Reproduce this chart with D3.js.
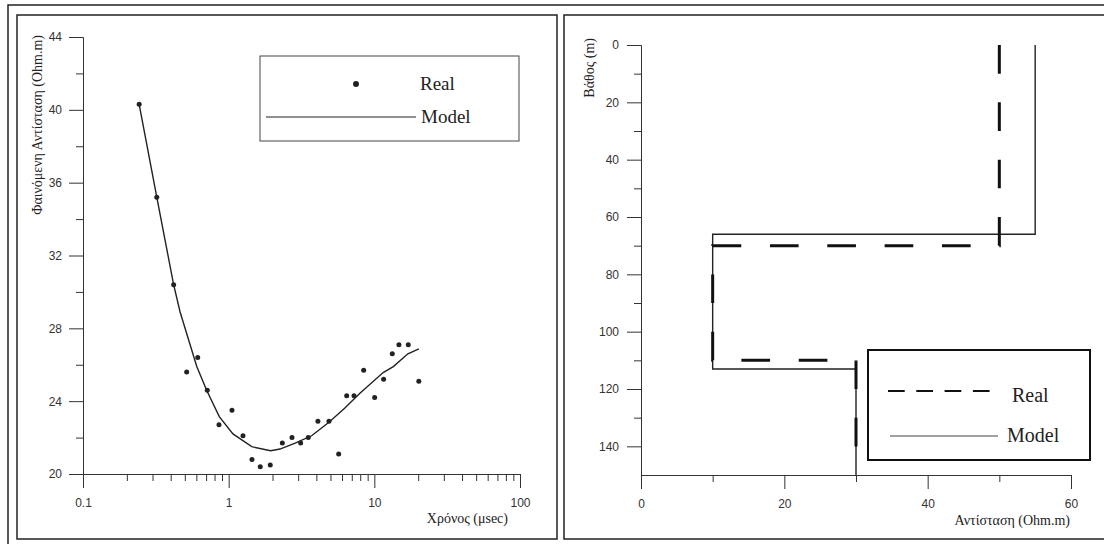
<!DOCTYPE html>
<html>
<head>
<meta charset="utf-8">
<script src="https://cdn.jsdelivr.net/npm/d3@7"></script>
<style>
  html, body { margin: 0; padding: 0; background: #fff; }
  svg { display: block; }
</style>
</head>
<body>
<svg id="chart" width="1104" height="544"></svg>
<script>
// Apparent resistivity sounding curve (left) and layered resistivity model (right)

// Left panel: measured apparent resistivity vs. time
const realTime = [0.243, 0.321, 0.419, 0.515, 0.613, 0.713, 0.858, 1.054, 1.254, 1.445, 1.648, 1.93, 2.335, 2.72,
                  3.12, 3.52, 4.10, 4.88, 5.69, 6.46, 7.25, 8.45, 10.05, 11.58, 13.28, 14.75, 17.1, 20.2];
const realRho  = [40.3, 35.2, 30.4, 25.6, 26.4, 24.6, 22.7, 23.5, 22.1, 20.8, 20.4, 20.5, 21.7, 22.0,
                  21.7, 22.0, 22.9, 22.9, 21.1, 24.3, 24.3, 25.7, 24.2, 25.2, 26.6, 27.1, 27.1, 25.1];

// Left panel: model response curve
const modelTime = [0.243, 0.321, 0.419, 0.464, 0.604, 0.706, 0.862, 1.07, 1.44, 1.94, 2.25, 2.86, 3.71,
                   4.93, 6.25, 7.96, 11.5, 13.5, 17.0, 20.2];
const modelRho  = [40.3, 35.2, 30.4, 28.9, 25.9, 24.6, 23.15, 22.2, 21.5, 21.28, 21.37, 21.69, 22.1,
                   22.87, 23.61, 24.43, 25.57, 25.9, 26.6, 26.87];

const timeTicks = [0.1, 1, 10, 100];
const timeTickLabels = ["0.1", "1", "10", "100"];
const rhoTicks = [20, 24, 28, 32, 36, 40, 44];

// Right panel: layered resistivity vs. depth (step profiles)
const realDepth  = [0, 70, 70, 110, 110, 150];
const realRes    = [50, 50, 10, 10, 30, 30];
const modelDepth = [0, 66, 66, 113, 113, 150];
const modelRes   = [55, 55, 10, 10, 30, 30];

const resTicks = [0, 20, 40, 60];
const depthTicks = [0, 20, 40, 60, 80, 100, 120, 140];

const svg = d3.select("#chart");
const ink = "#222";
const axisInk = "#333";
const sans = "'Liberation Sans', Arial, sans-serif";
const serif = "'Liberation Serif', 'Times New Roman', serif";

// Outer and panel frames
svg.append("rect").attr("x", 8).attr("y", 5).attr("width", 1110).attr("height", 560)
  .attr("fill", "none").attr("stroke", ink).attr("stroke-width", 1.5);
svg.append("rect").attr("x", 17).attr("y", 15).attr("width", 540).attr("height", 524)
  .attr("fill", "none").attr("stroke", ink).attr("stroke-width", 1.5);
svg.append("rect").attr("x", 564).attr("y", 15).attr("width", 560).attr("height", 524)
  .attr("fill", "none").attr("stroke", ink).attr("stroke-width", 1.5);

function styleAxis(g) {
  g.select(".domain").attr("stroke", axisInk).attr("stroke-width", 1);
  g.selectAll(".tick line").attr("stroke", axisInk).attr("stroke-width", 1);
  g.selectAll(".tick text").attr("fill", axisInk).style("font-family", sans).style("font-size", "12px");
}

// ---------- Left panel ----------
const x1 = d3.scaleLog().domain([0.1, 100]).range([83, 520]);
const y1 = d3.scaleLinear().domain([20, 44]).range([474, 37]);

// minor ticks
const logMinor = [];
[0.1, 1, 10].forEach(d => { for (let k = 2; k <= 9; k++) logMinor.push(d * k); });
svg.append("g").attr("transform", `translate(0,${y1(20)})`)
  .call(d3.axisBottom(x1).tickValues(logMinor).tickFormat("").tickSize(7).tickSizeOuter(0))
  .call(styleAxis);
svg.append("g").attr("transform", `translate(${x1(0.1)},0)`)
  .call(d3.axisLeft(y1).tickValues([22, 26, 30, 34, 38, 42]).tickFormat("").tickSize(7).tickSizeOuter(0))
  .call(styleAxis);

svg.append("g").attr("transform", `translate(0,${y1(20)})`)
  .call(d3.axisBottom(x1).tickValues(timeTicks)
    .tickFormat((d, i) => timeTickLabels[i]).tickSize(14).tickPadding(10).tickSizeOuter(0))
  .call(styleAxis);
svg.append("g").attr("transform", `translate(${x1(0.1)},0)`)
  .call(d3.axisLeft(y1).tickValues(rhoTicks).tickSize(14).tickPadding(7).tickSizeOuter(0))
  .call(styleAxis);

// axis titles
svg.append("text").attr("transform", `translate(42,35) rotate(-90)`)
  .attr("text-anchor", "end").attr("fill", ink)
  .style("font-family", serif).style("font-size", "14px")
  .text("Φαινόμενη Αντίσταση (Ohm.m)");
svg.append("text").attr("x", 508).attr("y", 523).attr("text-anchor", "end").attr("fill", ink)
  .style("font-family", serif).style("font-size", "14px")
  .text("Χρόνος (μsec)");

// model curve
const modelPts = modelTime.map((t, i) => [t, modelRho[i]]);
svg.append("path").datum(modelPts)
  .attr("fill", "none").attr("stroke", ink).attr("stroke-width", 1.4)
  .attr("d", d3.line().x(d => x1(d[0])).y(d => y1(d[1])));

// measured points
svg.append("g").selectAll("circle")
  .data(realTime.map((t, i) => [t, realRho[i]]))
  .join("circle")
  .attr("cx", d => x1(d[0])).attr("cy", d => y1(d[1])).attr("r", 2.5)
  .attr("fill", ink);

// legend
const lg1 = svg.append("g");
lg1.append("rect").attr("x", 260).attr("y", 56).attr("width", 259).attr("height", 85)
  .attr("fill", "#fff").attr("stroke", "#444").attr("stroke-width", 1);
lg1.append("circle").attr("cx", 356).attr("cy", 84).attr("r", 3).attr("fill", ink);
lg1.append("text").attr("x", 420).attr("y", 90).attr("fill", ink)
  .style("font-family", serif).style("font-size", "19px").text("Real");
lg1.append("line").attr("x1", 266).attr("x2", 416).attr("y1", 117).attr("y2", 117)
  .attr("stroke", ink).attr("stroke-width", 1);
lg1.append("text").attr("x", 421).attr("y", 123).attr("fill", ink)
  .style("font-family", serif).style("font-size", "19px").text("Model");

// ---------- Right panel ----------
const x2 = d3.scaleLinear().domain([0, 60]).range([641, 1071]);
const y2 = d3.scaleLinear().domain([0, 150]).range([45, 475]);

svg.append("g").attr("transform", `translate(0,${y2(150)})`)
  .call(d3.axisBottom(x2).tickValues([10, 30, 50]).tickFormat("").tickSize(7).tickSizeOuter(0))
  .call(styleAxis);
svg.append("g").attr("transform", `translate(${x2(0)},0)`)
  .call(d3.axisLeft(y2).tickValues([10, 30, 50, 70, 90, 110, 130]).tickFormat("").tickSize(7).tickSizeOuter(0))
  .call(styleAxis);
svg.append("g").attr("transform", `translate(0,${y2(150)})`)
  .call(d3.axisBottom(x2).tickValues(resTicks).tickSize(14).tickPadding(10).tickSizeOuter(0))
  .call(styleAxis);
svg.append("g").attr("transform", `translate(${x2(0)},0)`)
  .call(d3.axisLeft(y2).tickValues(depthTicks).tickSize(14).tickPadding(8).tickSizeOuter(0))
  .call(styleAxis);

svg.append("text").attr("transform", `translate(594,38) rotate(-90)`)
  .attr("text-anchor", "end").attr("fill", ink)
  .style("font-family", serif).style("font-size", "14px")
  .text("Βάθος (m)");
svg.append("text").attr("x", 1070).attr("y", 525).attr("text-anchor", "end").attr("fill", ink)
  .style("font-family", serif).style("font-size", "14px")
  .text("Αντίσταση (Ohm.m)");

const stepLine = d3.line().x(d => x2(d[0])).y(d => y2(d[1]));
svg.append("path").datum(modelRes.map((r, i) => [r, modelDepth[i]]))
  .attr("fill", "none").attr("stroke", ink).attr("stroke-width", 1.4)
  .attr("d", stepLine);
svg.append("path").datum(realRes.map((r, i) => [r, realDepth[i]]))
  .attr("fill", "none").attr("stroke", "#111").attr("stroke-width", 3)
  .attr("stroke-dasharray", "28.67,28.67")
  .attr("d", stepLine);

// legend
const lg2 = svg.append("g");
lg2.append("rect").attr("x", 868).attr("y", 350).attr("width", 222).attr("height", 110)
  .attr("fill", "#fff").attr("stroke", "#111").attr("stroke-width", 2);
lg2.append("line").attr("x1", 888).attr("x2", 992).attr("y1", 391).attr("y2", 391)
  .attr("stroke", "#111").attr("stroke-width", 2).attr("stroke-dasharray", "16.7,11.6");
lg2.append("text").attr("x", 1012).attr("y", 402).attr("fill", ink)
  .style("font-family", serif).style("font-size", "20px").text("Real");
lg2.append("line").attr("x1", 890).attr("x2", 998).attr("y1", 436).attr("y2", 436)
  .attr("stroke", "#444").attr("stroke-width", 1);
lg2.append("text").attr("x", 1007).attr("y", 442).attr("fill", ink)
  .style("font-family", serif).style("font-size", "20px").text("Model");
</script>
</body>
</html>
